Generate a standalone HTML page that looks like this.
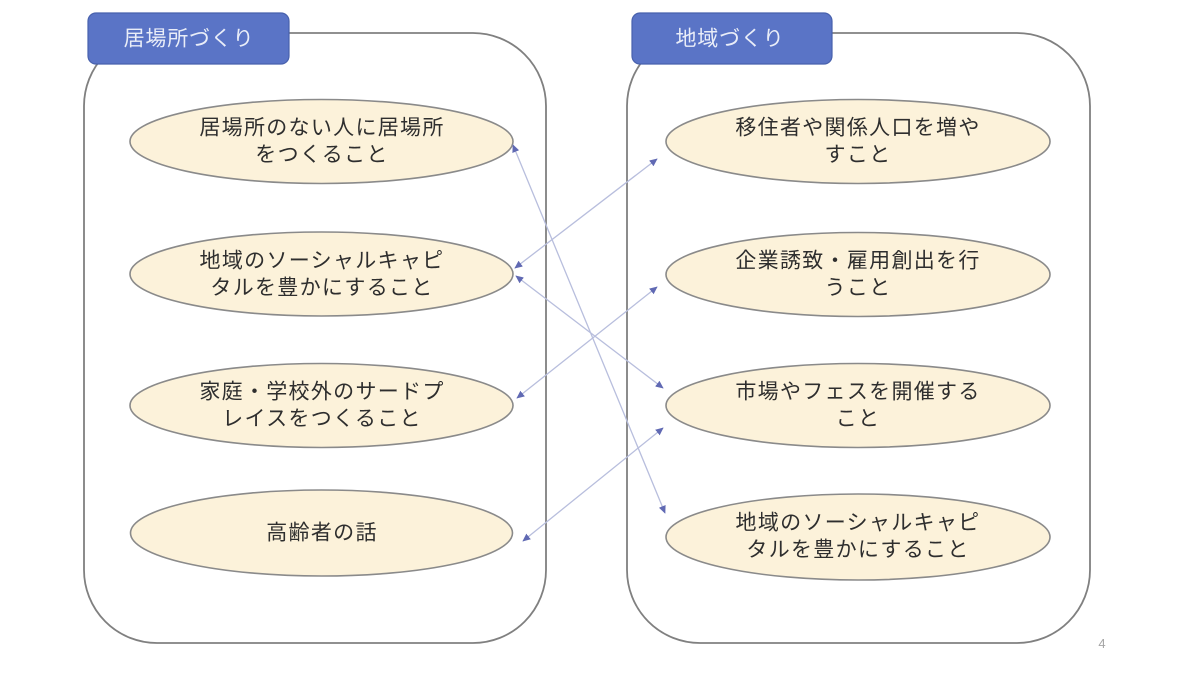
<!DOCTYPE html>
<html>
<head>
<meta charset="utf-8">
<style>
  html,body{margin:0;padding:0;background:#ffffff;}
  svg{display:block;}
  .t{font-family:"Liberation Sans","Noto Sans CJK JP",sans-serif;font-size:21px;fill:#2e2e2e;letter-spacing:1.3px;}
  .h{font-family:"Liberation Sans","Noto Sans CJK JP",sans-serif;font-size:21px;fill:#e9edf8;letter-spacing:0.8px;}
</style>
</head>
<body>
<svg width="1200" height="675" viewBox="0 0 1200 675" xmlns="http://www.w3.org/2000/svg">
  <defs>
    <marker id="ah" viewBox="0 0 10 10" refX="9" refY="5" markerWidth="8" markerHeight="8" markerUnits="userSpaceOnUse" orient="auto-start-reverse">
      <path d="M0,0.5 L10,5 L0,9.5 z" fill="#6069b3"/>
    </marker>
  </defs>

  <!-- containers -->
  <rect x="84" y="33" width="462" height="610" rx="73" ry="73" fill="#ffffff" stroke="#808080" stroke-width="1.8"/>
  <rect x="627" y="33" width="463" height="610" rx="73" ry="73" fill="#ffffff" stroke="#808080" stroke-width="1.8"/>

  <!-- header tabs -->
  <rect x="88" y="13" width="201" height="51" rx="8" ry="8" fill="#5a74c6" stroke="#4861ad" stroke-width="1.2"/>
  <text class="h" x="189" y="39" text-anchor="middle" dominant-baseline="central">居場所づくり</text>
  <rect x="632" y="13" width="200" height="51" rx="8" ry="8" fill="#5a74c6" stroke="#4861ad" stroke-width="1.2"/>
  <text class="h" x="730" y="39" text-anchor="middle" dominant-baseline="central">地域づくり</text>

  <!-- ellipses -->
  <g fill="#fcf2da" stroke="#8a8a8a" stroke-width="1.6">
    <ellipse cx="321.5" cy="141.5" rx="191.5" ry="42"/>
    <ellipse cx="321.5" cy="274" rx="191.5" ry="42"/>
    <ellipse cx="321.5" cy="405.5" rx="191.5" ry="42"/>
    <ellipse cx="321.5" cy="533" rx="191" ry="43"/>
    <ellipse cx="858" cy="141.5" rx="192" ry="42"/>
    <ellipse cx="858" cy="274.5" rx="192" ry="42"/>
    <ellipse cx="858" cy="405.5" rx="192" ry="42"/>
    <ellipse cx="858" cy="537" rx="192" ry="43"/>
  </g>

  <!-- texts left -->
  <text class="t" x="322" y="128" text-anchor="middle" dominant-baseline="central">居場所のない人に居場所</text>
  <text class="t" x="322" y="155" text-anchor="middle" dominant-baseline="central">をつくること</text>

  <text class="t" x="322" y="261" text-anchor="middle" dominant-baseline="central">地域のソーシャルキャピ</text>
  <text class="t" x="322" y="288" text-anchor="middle" dominant-baseline="central">タルを豊かにすること</text>

  <text class="t" x="322" y="392" text-anchor="middle" dominant-baseline="central">家庭・学校外のサードプ</text>
  <text class="t" x="322" y="419" text-anchor="middle" dominant-baseline="central">レイスをつくること</text>

  <text class="t" x="322" y="533" text-anchor="middle" dominant-baseline="central">高齢者の話</text>

  <!-- texts right -->
  <text class="t" x="858" y="128" text-anchor="middle" dominant-baseline="central">移住者や関係人口を増や</text>
  <text class="t" x="858" y="155" text-anchor="middle" dominant-baseline="central">すこと</text>

  <text class="t" x="858" y="261" text-anchor="middle" dominant-baseline="central">企業誘致・雇用創出を行</text>
  <text class="t" x="858" y="288" text-anchor="middle" dominant-baseline="central">うこと</text>

  <text class="t" x="858" y="392" text-anchor="middle" dominant-baseline="central">市場やフェスを開催する</text>
  <text class="t" x="858" y="419" text-anchor="middle" dominant-baseline="central">こと</text>

  <text class="t" x="858" y="523" text-anchor="middle" dominant-baseline="central">地域のソーシャルキャピ</text>
  <text class="t" x="858" y="550" text-anchor="middle" dominant-baseline="central">タルを豊かにすること</text>

  <!-- connectors -->
  <g stroke="#b8bedd" stroke-width="1.3" fill="none">
    <line x1="513" y1="145" x2="665" y2="513" marker-start="url(#ah)" marker-end="url(#ah)"/>
    <line x1="515" y1="268" x2="657" y2="159" marker-start="url(#ah)" marker-end="url(#ah)"/>
    <line x1="516" y1="276" x2="663" y2="388" marker-start="url(#ah)" marker-end="url(#ah)"/>
    <line x1="517" y1="398" x2="657" y2="287" marker-start="url(#ah)" marker-end="url(#ah)"/>
    <line x1="523" y1="541" x2="663" y2="428" marker-start="url(#ah)" marker-end="url(#ah)"/>
  </g>

  <!-- page number -->
  <text x="1102" y="648" font-family="Liberation Sans, sans-serif" font-size="13" fill="#a6a6a6" text-anchor="middle">4</text>
</svg>
</body>
</html>
